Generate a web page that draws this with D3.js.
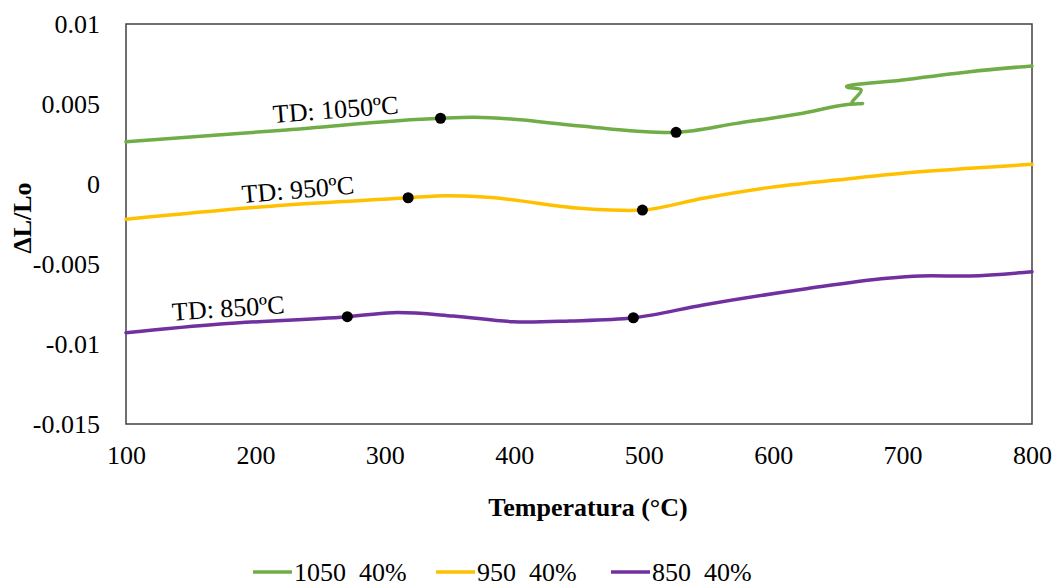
<!DOCTYPE html>
<html>
<head>
<meta charset="utf-8">
<script src="https://cdn.jsdelivr.net/npm/d3@7"></script>
<style>
  body { margin: 0; background: #fff; }
  text { font-family: "Liberation Serif", "Times New Roman", serif; fill: #000; }
</style>
</head>
<body>
<div id="chart"></div>
<script>
// Data (temperature °C, ΔL/Lo)
const series1050 = [
  [100, 0.00264], [224, 0.00338], [343, 0.00411], [368, 0.00417], [451, 0.00363],
  [495, 0.0033], [525, 0.00323], [572, 0.00379], [623, 0.00442], [659, 0.00498],
  [669, 0.00503], [661, 0.00503], [668, 0.00588], [658, 0.00603], [700, 0.0065],
  [752, 0.00702], [800, 0.00738]
];
const series950 = [
  [100, -0.00221], [224, -0.00131], [318, -0.00086], [340, -0.00075], [379, -0.00083],
  [451, -0.00152], [474, -0.00163], [499, -0.00163], [546, -0.00089], [598, -0.00021],
  [649, 0.00025], [700, 0.00067], [752, 0.00098], [800, 0.00123]
];
const series850 = [
  [100, -0.00929], [173, -0.00875], [271, -0.00829], [306, -0.00804], [353, -0.00825],
  [399, -0.00861], [443, -0.00856], [492, -0.00836], [546, -0.00756], [623, -0.00658],
  [688, -0.00589], [714, -0.00575], [752, -0.00575], [800, -0.00548]
];
const dots1050 = [[343, 0.00411], [525, 0.00323]];
const dots950 = [[318, -0.00086], [499, -0.00163]];
const dots850 = [[271, -0.00829], [492, -0.00836]];
const seriesNames = ["1050  40%", "950  40%", "850  40%"];
const labelTexts = ["TD: 1050ºC", "TD: 950ºC", "TD: 850ºC"];
const labelAnchors = [[214, 0.00381], [190, -0.00119], [136, -0.00854]];
const labelAngles = [-4.4, -4.9, -3.8];
const xTicks = [100, 200, 300, 400, 500, 600, 700, 800];
const yTicks = [0.01, 0.005, 0, -0.005, -0.01, -0.015];
const colors = ["#70AD47", "#FFC000", "#7030A0"];

// Dimensions
const dimensions = { width: 1059, height: 584, left: 126, right: 1032, top: 24, bottom: 424 };

const svg = d3.select("#chart").append("svg")
  .attr("width", dimensions.width)
  .attr("height", dimensions.height);

// Scales
const xScale = d3.scaleLinear().domain([100, 800]).range([dimensions.left, dimensions.right]);
const yScale = d3.scaleLinear().domain([-0.015, 0.01]).range([dimensions.bottom, dimensions.top]);

// Axes (labels only, no tick marks)
const fmt = (d) => String(+d.toFixed(3)); // plain hyphen minus like Excel
const yAxis = svg.append("g")
  .attr("transform", `translate(${dimensions.left},0)`)
  .call(d3.axisLeft(yScale).tickValues(yTicks).tickSize(0).tickPadding(26).tickFormat(fmt))
  .attr("font-family", "Liberation Serif")
  .attr("font-size", 26);
yAxis.select(".domain").remove();
yAxis.selectAll("text").attr("dy", "0.33em");

const xAxis = svg.append("g")
  .attr("transform", `translate(0,${dimensions.bottom})`)
  .call(d3.axisBottom(xScale).tickValues(xTicks).tickSize(0).tickPadding(24))
  .attr("font-family", "Liberation Serif")
  .attr("font-size", 26);
xAxis.select(".domain").remove();
xAxis.selectAll("text").attr("dy", "0.62em");

// Plot frame
svg.append("rect")
  .attr("x", dimensions.left)
  .attr("y", dimensions.top)
  .attr("width", dimensions.right - dimensions.left)
  .attr("height", dimensions.bottom - dimensions.top)
  .attr("fill", "none")
  .attr("stroke", "#404040")
  .attr("stroke-width", 1.5);

// Lines
const line = d3.line()
  .x((d) => xScale(d[0]))
  .y((d) => yScale(d[1]))
  .curve(d3.curveCatmullRom.alpha(1));

[series1050, series950, series850].forEach((s, i) => {
  svg.append("path")
    .datum(s)
    .attr("d", line)
    .attr("fill", "none")
    .attr("stroke", colors[i])
    .attr("stroke-width", 3.5)
    .attr("stroke-linejoin", "round")
    .attr("stroke-linecap", "round");
});

// Dots
svg.append("g").selectAll("circle")
  .data([...dots1050, ...dots950, ...dots850])
  .join("circle")
  .attr("cx", (d) => xScale(d[0]))
  .attr("cy", (d) => yScale(d[1]))
  .attr("r", 5.5)
  .attr("fill", "#000");

// Curve labels
svg.append("g").selectAll("text")
  .data(labelTexts)
  .join("text")
  .attr("transform", (d, i) => `translate(${xScale(labelAnchors[i][0])},${yScale(labelAnchors[i][1])}) rotate(${labelAngles[i]})`)
  .style("font-size", "26px")
  .text((d) => d);

// Axis titles
svg.append("text")
  .attr("x", 588)
  .attr("y", 516)
  .attr("text-anchor", "middle")
  .style("font-size", "26px")
  .style("font-weight", "bold")
  .text("Temperatura (°C)");

svg.append("text")
  .attr("transform", `translate(31,${(dimensions.top + dimensions.bottom) / 2 - 6}) rotate(-90)`)
  .attr("text-anchor", "middle")
  .style("font-size", "26px")
  .style("font-weight", "bold")
  .text("ΔL/Lo");

// Legend
const legendX = [253, 436, 611];
const legend = svg.append("g").selectAll("g")
  .data(seriesNames)
  .join("g")
  .attr("transform", (d, i) => `translate(${legendX[i]},572)`);
legend.append("line")
  .attr("x1", 0).attr("x2", 39)
  .attr("stroke", (d, i) => colors[i])
  .attr("stroke-width", 3.5);
legend.append("text")
  .attr("x", 41)
  .attr("y", 9)
  .style("font-size", "26px")
  .style("white-space", "pre")
  .text((d) => d);
</script>
</body>
</html>
